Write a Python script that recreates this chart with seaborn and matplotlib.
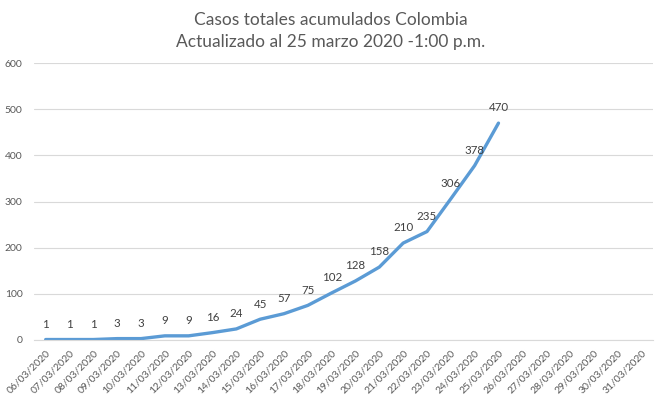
import numpy as np
import pandas as pd
import matplotlib
matplotlib.use("Agg")
import matplotlib.pyplot as plt
import seaborn as sns

sns.set_style("white")
plt.rcParams['font.family'] = ['Lato', 'DejaVu Sans']

# data
dates = ['06/03/2020', '07/03/2020', '08/03/2020', '09/03/2020', '10/03/2020',
         '11/03/2020', '12/03/2020', '13/03/2020', '14/03/2020', '15/03/2020',
         '16/03/2020', '17/03/2020', '18/03/2020', '19/03/2020', '20/03/2020',
         '21/03/2020', '22/03/2020', '23/03/2020', '24/03/2020', '25/03/2020',
         '26/03/2020', '27/03/2020', '28/03/2020', '29/03/2020', '30/03/2020',
         '31/03/2020']
cases = [1, 1, 1, 3, 3, 9, 9, 16, 24, 45, 57, 75, 102, 128, 158, 210, 235, 306, 378, 470]
y_ticks = [0, 100, 200, 300, 400, 500, 600]

title = "Casos totales acumulados Colombia\nActualizado al 25 marzo 2020 -1:00 p.m."

grey_text = '#595959'
grid_col = '#D9D9D9'
line_col = '#5B9BD5'

df = pd.DataFrame({'pos': np.arange(len(cases)), 'casos': cases})

fig = plt.figure(figsize=(6.62, 3.97), dpi=100)
ax = fig.add_axes([0.051, 0.1436, 0.936, 0.6974])

sns.lineplot(data=df, x='pos', y='casos', ax=ax, color=line_col, linewidth=2.4)

for x, v in zip(df['pos'], df['casos']):
    ax.annotate(str(v), (x, v), xytext=(0, 7), textcoords='offset points',
                ha='center', va='bottom', fontsize=8.3, color='#404040')

ax.set_xlim(-0.5, len(dates) - 0.5)
ax.set_ylim(0, 600)
ax.set_yticks(y_ticks)
ax.set_yticklabels([str(t) for t in y_ticks], fontsize=7.5, color=grey_text)
ax.set_xticks(np.arange(len(dates)))
ax.set_xticklabels(dates, rotation=45, ha='right', rotation_mode='anchor',
                   fontsize=7.5, color=grey_text)
ax.set_xticks(np.arange(len(dates) + 1) - 0.5, minor=True)
ax.tick_params(axis='x', which='major', length=0, pad=6)
ax.tick_params(axis='x', which='minor', length=4, color=grid_col, width=0.8)
ax.tick_params(axis='y', length=0, pad=8)

ax.grid(axis='y', color=grid_col, linewidth=0.8)
ax.set_axisbelow(True)
for s in ['top', 'right', 'left']:
    ax.spines[s].set_visible(False)
ax.spines['bottom'].set_color(grid_col)
ax.spines['bottom'].set_linewidth(0.8)

ax.set_xlabel('')
ax.set_ylabel('')
fig.suptitle(title, fontsize=12.5, color=grey_text, y=0.97, linespacing=1.45)

fig.savefig('out.png', dpi=100)
